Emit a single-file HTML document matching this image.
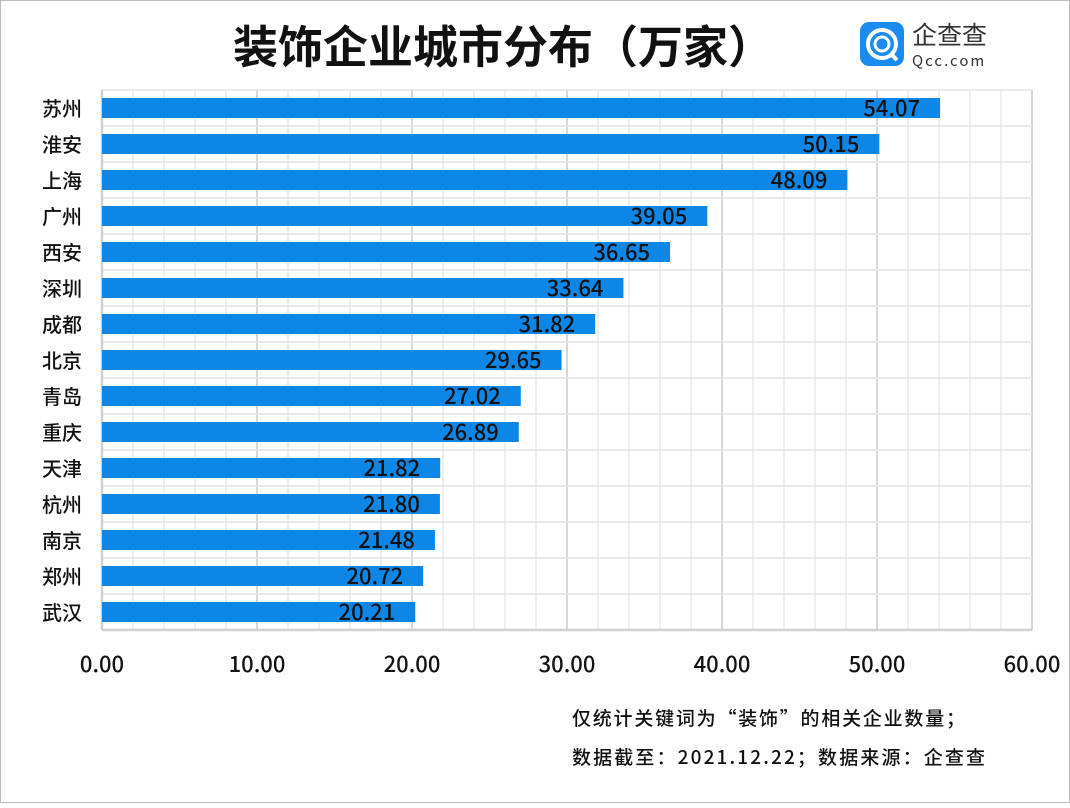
<!DOCTYPE html>
<html><head><meta charset="utf-8"><style>
body{margin:0;background:#fff}
svg text{font-family:"Noto Sans CJK SC","Liberation Sans",sans-serif}
</style></head><body>
<svg width="1070" height="803" xmlns="http://www.w3.org/2000/svg">
<rect x="0.5" y="0.5" width="1069" height="802" fill="#fff" stroke="#bbb"/>
<text x="503" y="63" font-size="45" font-weight="bold" text-anchor="middle" fill="#111">装饰企业城市分布（万家）</text>
<rect x="860" y="22" width="44" height="44" rx="9" fill="#1a8cf0"/>
<circle cx="882" cy="44" r="14" fill="none" stroke="#fff" stroke-width="4"/>
<circle cx="882" cy="44" r="7" fill="none" stroke="#fff" stroke-width="3"/>
<line x1="890" y1="53" x2="897" y2="60" stroke="#fff" stroke-width="4"/>
<text x="912" y="44" font-size="25" fill="#333">企查查</text>
<text x="912" y="66" font-size="15" fill="#333" letter-spacing="2" font-family="Liberation Sans,sans-serif">Qcc.com</text>
<script>
(function(){
var svg=document.querySelector('svg');var ns='http://www.w3.org/2000/svg';
function el(n,a,t){var e=document.createElementNS(ns,n);for(var k in a)e.setAttribute(k,a[k]);if(t)e.textContent=t;svg.appendChild(e);return e;}
var x0=102,s=15.5,top=90,bot=630;
for(var i=0;i<=30;i++){var x=x0+i*2*s;el('line',{x1:x,y1:top,x2:x,y2:bot,stroke:i%5==0?'#d6d6d6':'#e8e8e8','stroke-width':i%5==0?2:1.5});}
for(var j=0;j<=15;j++){var y=top+j*36;el('line',{x1:x0,y1:y,x2:1032,y2:y,stroke:'#e2e2e2','stroke-width':1.5});}
el('line',{x1:x0,y1:top,x2:x0,y2:bot,stroke:'#d0d0d0','stroke-width':2.5});
el('line',{x1:x0,y1:bot,x2:1032,y2:bot,stroke:'#d0d0d0','stroke-width':2.5});
var d=[['苏州',54.07],['淮安',50.15],['上海',48.09],['广州',39.05],['西安',36.65],['深圳',33.64],['成都',31.82],['北京',29.65],['青岛',27.02],['重庆',26.89],['天津',21.82],['杭州',21.80],['南京',21.48],['郑州',20.72],['武汉',20.21]];
d.forEach(function(r,i){var cy=top+18+i*36;var w=r[1]*s;
el('rect',{x:x0,y:cy-10,width:w,height:20,fill:'#0c87e8'});
el('text',{x:x0+w-20,y:cy+8,'font-size':22,'font-weight':500,'text-anchor':'end',fill:'#111'},r[1].toFixed(2));
el('text',{x:62,y:cy+8,'font-size':20,'font-weight':500,'text-anchor':'middle',fill:'#111'},r[0]);});
for(var k=0;k<=6;k++){el('text',{x:x0+k*10*s,y:672,'font-size':22,'font-weight':500,'text-anchor':'middle',fill:'#111'},(k*10).toFixed(2));}
el('text',{x:572,y:725,'font-size':19,'font-weight':500,fill:'#111',textLength:393,lengthAdjust:'spacing'},'仅统计关键词为“装饰”的相关企业数量；');
el('text',{x:572,y:764,'font-size':19,'font-weight':500,fill:'#111',textLength:413,lengthAdjust:'spacing'},'数据截至：2021.12.22；数据来源：企查查');
})();
</script>
</svg>
</body></html>
